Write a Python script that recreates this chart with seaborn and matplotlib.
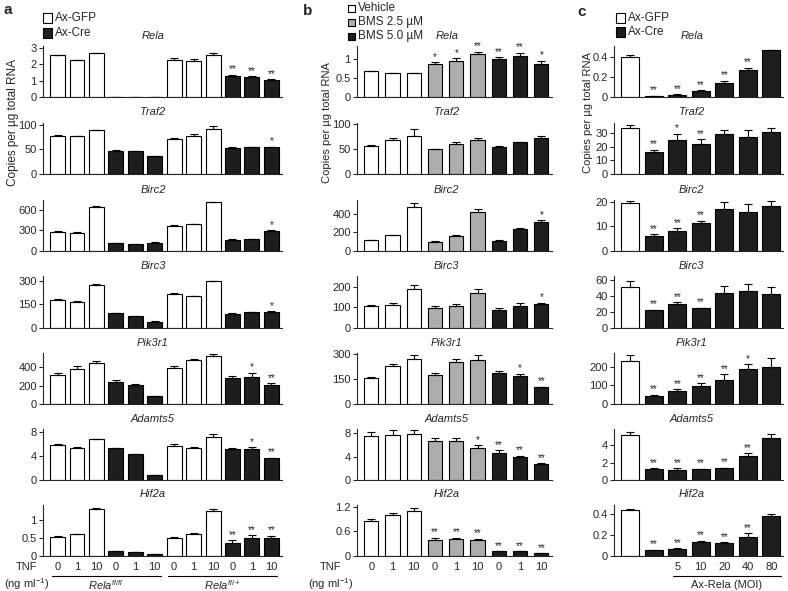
#Recreate the three-panel qPCR bar chart (a, b, c).

import numpy as np
import pandas as pd
import seaborn as sns
from matplotlib import pyplot as plt
from matplotlib.patches import Rectangle
from matplotlib.lines import Line2D
from matplotlib.transforms import blended_transform_factory

genes = ["Rela", "Traf2", "Birc2", "Birc3", "Pik3r1", "Adamts5", "Hif2a"]

# ---- panel a : Ax-GFP / Ax-Cre on Rela fl/fl and fl/+ chondrocytes
a_tnf = ["0", "1", "10"] * 4
a_colors = ["white"] * 3 + ["#1e1e1e"] * 3 + ["white"] * 3 + ["#1e1e1e"] * 3
a_mean = {
    "Rela": [2.55, 2.27, 2.68, 0.02, 0.02, 0.02, 2.28, 2.22, 2.55, 1.30, 1.22, 1.05],
    "Traf2": [77, 77, 90, 47, 46, 36, 72, 78, 93, 53, 55, 55],
    "Birc2": [280, 270, 650, 110, 105, 115, 360, 390, 710, 165, 175, 290],
    "Birc3": [180, 168, 278, 95, 75, 38, 220, 203, 300, 90, 98, 103],
    "Pik3r1": [315, 385, 450, 245, 205, 85, 395, 480, 520, 280, 300, 205],
    "Adamts5": [5.8, 5.4, 6.8, 5.3, 4.3, 0.8, 5.7, 5.4, 7.2, 5.1, 5.2, 3.6],
    "Hif2a": [0.53, 0.59, 1.30, 0.12, 0.10, 0.03, 0.48, 0.59, 1.25, 0.36, 0.50, 0.50],
}
a_err = {
    "Rela": [0.05, 0.02, 0.03, 0, 0, 0, 0.08, 0.08, 0.12, 0.06, 0.05, 0.05],
    "Traf2": [3, 1, 1, 1, 1, 1, 1, 5, 5, 2, 1, 1],
    "Birc2": [15, 5, 3, 3, 3, 10, 15, 10, 5, 5, 3, 10],
    "Birc3": [3, 3, 2, 2, 1, 2, 3, 3, 5, 3, 3, 3],
    "Pik3r1": [20, 30, 25, 15, 15, 3, 20, 15, 25, 30, 40, 20],
    "Adamts5": [0.15, 0.1, 0.1, 0.1, 0.1, 0.05, 0.3, 0.1, 0.4, 0.2, 0.3, 0.1],
    "Hif2a": [0.01, 0.02, 0.02, 0, 0, 0, 0.05, 0.04, 0.06, 0.07, 0.07, 0.05],
}
a_star = {
    "Rela": [""] * 9 + ["**", "**", "**"],
    "Traf2": [""] * 11 + ["*"],
    "Birc2": [""] * 11 + ["*"],
    "Birc3": [""] * 11 + ["*"],
    "Pik3r1": [""] * 10 + ["*", "**"],
    "Adamts5": [""] * 10 + ["*", "**"],
    "Hif2a": [""] * 9 + ["**", "**", "**"],
}
a_ylim = [3.12, 106, 746, 331, 557, 8.5, 1.43]
a_ticks = [[0, 1, 2, 3], [0, 50, 100], [0, 300, 600], [0, 150, 300],
           [0, 200, 400], [0, 4, 8], [0, 0.5, 1]]

# ---- panel b : vehicle / BMS
b_tnf = ["0", "1", "10"] * 3
b_colors = ["white"] * 3 + ["#adadad"] * 3 + ["#1e1e1e"] * 3
b_mean = {
    "Rela": [0.67, 0.62, 0.62, 0.85, 0.95, 1.12, 0.99, 1.08, 0.85],
    "Traf2": [56, 69, 76, 49, 59, 68, 53, 63, 72],
    "Birc2": [115, 170, 480, 100, 165, 420, 110, 240, 315],
    "Birc3": [105, 110, 190, 95, 108, 170, 88, 105, 118],
    "Pik3r1": [158, 228, 272, 172, 250, 262, 185, 170, 100],
    "Adamts5": [7.5, 7.6, 7.9, 6.7, 6.6, 5.4, 4.6, 3.9, 2.7],
    "Hif2a": [0.84, 1.0, 1.1, 0.37, 0.40, 0.39, 0.10, 0.10, 0.05],
}
b_err = {
    "Rela": [0.02, 0.01, 0.01, 0.05, 0.06, 0.06, 0.05, 0.07, 0.1],
    "Traf2": [2, 4, 15, 1, 5, 5, 2, 1, 4],
    "Birc2": [5, 8, 35, 8, 8, 35, 5, 8, 15],
    "Birc3": [8, 10, 20, 12, 10, 22, 10, 15, 5],
    "Pik3r1": [5, 10, 25, 12, 20, 30, 15, 12, 5],
    "Adamts5": [0.7, 1.0, 0.7, 0.4, 0.6, 0.5, 0.5, 0.25, 0.2],
    "Hif2a": [0.05, 0.04, 0.07, 0.07, 0.04, 0.02, 0.01, 0.01, 0.01],
}
b_star = {
    "Rela": ["", "", "", "*", "*", "**", "**", "**", "*"],
    "Traf2": [""] * 9,
    "Birc2": [""] * 8 + ["*"],
    "Birc3": [""] * 8 + ["*"],
    "Pik3r1": [""] * 7 + ["*", "**"],
    "Adamts5": [""] * 5 + ["*", "**", "**", "**"],
    "Hif2a": [""] * 3 + ["**"] * 6,
}
b_ylim = [1.33, 103.5, 551, 252, 306, 8.7, 1.25]
b_ticks = [[0, 0.5, 1], [0, 50, 100], [0, 200, 400], [0, 100, 200],
           [0, 150, 300], [0, 4, 8], [0, 0.6, 1.2]]

# ---- panel c : Ax-Rela rescue
c_moi = ["", "", "5", "10", "20", "40", "80"]
c_colors = ["white"] + ["#1e1e1e"] * 6
c_mean = {
    "Rela": [0.40, 0.01, 0.02, 0.065, 0.145, 0.275, 0.47],
    "Traf2": [34, 16, 25, 22, 29.5, 27, 30.5],
    "Birc2": [19.5, 6, 8, 11.5, 17, 16, 18.5],
    "Birc3": [51, 22, 30.5, 24.5, 44, 46, 43],
    "Pik3r1": [230, 45, 72, 95, 130, 188, 200],
    "Adamts5": [5.2, 1.3, 1.2, 1.25, 1.35, 2.75, 4.9],
    "Hif2a": [0.43, 0.05, 0.065, 0.125, 0.12, 0.18, 0.38],
}
c_err = {
    "Rela": [0.02, 0.003, 0.008, 0.005, 0.02, 0.02, 0.005],
    "Traf2": [2, 1.5, 4.5, 3.5, 2.5, 5, 3],
    "Birc2": [0.8, 0.8, 1.2, 0.8, 3, 3, 2],
    "Birc3": [8, 0.5, 2, 0.5, 9, 9, 9],
    "Pik3r1": [30, 5, 6, 15, 30, 25, 45],
    "Adamts5": [0.3, 0.05, 0.15, 0.05, 0.05, 0.35, 0.45],
    "Hif2a": [0.01, 0.005, 0.005, 0.015, 0.005, 0.03, 0.02],
}
c_star = {
    "Rela": ["", "**", "**", "**", "**", "**", ""],
    "Traf2": ["", "**", "*", "**", "", "", ""],
    "Birc2": ["", "**", "**", "**", "", "", ""],
    "Birc3": ["", "**", "**", "**", "", "", ""],
    "Pik3r1": ["", "**", "**", "**", "**", "*", ""],
    "Adamts5": ["", "**", "**", "**", "**", "**", ""],
    "Hif2a": ["", "**", "**", "**", "**", "**", ""],
}
c_ylim = [0.51, 37.8, 20.8, 65, 273, 5.9, 0.486]
c_ticks = [[0, 0.2, 0.4], [0, 10, 20, 30], [0, 10, 20], [0, 20, 40, 60],
           [0, 100, 200], [0, 2, 4], [0, 0.2, 0.4]]

ylabel = "Copies per \u00b5g total RNA"

sns.set_style("ticks")
plt.rcParams['font.family'] = ['Liberation Sans', 'DejaVu Sans']
plt.rcParams['mathtext.fontset'] = 'custom'
plt.rcParams['mathtext.rm'] = 'Liberation Sans'
plt.rcParams['mathtext.it'] = 'Liberation Sans:italic'

W, H = 788, 591
fig = plt.figure(figsize=(W / 100, H / 100), dpi=100)

row_bottoms = [97, 173.5, 251, 327.5, 404, 480, 555.5]
row_h = 51


def fy(y):
    return 1 - y / H


def draw_bars(ax, vals, errs, stars, colors, width):
    df = pd.DataFrame({"pos": [str(i) for i in range(len(vals))], "val": vals})
    pal = dict(zip(df["pos"], colors))
    sns.barplot(data=df, x="pos", y="val", hue="pos", palette=pal, width=width,
                edgecolor="black", linewidth=0.8, legend=False, ax=ax)
    x = np.arange(len(vals))
    ax.errorbar(x, vals, yerr=[np.zeros(len(vals)), errs], fmt="none",
                ecolor="black", elinewidth=0.8, capsize=3, capthick=0.8)
    for xi, v, e, s in zip(x, vals, errs, stars):
        if s:
            ax.annotate(s, (xi, v + e), xytext=(0, 0.3), textcoords="offset points",
                        ha="center", va="bottom", fontsize=7)


panels = [
    dict(L=43, R=282, xlim=(-0.75, 11.55), width=0.77, colors=a_colors,
         mean=a_mean, err=a_err, star=a_star, ylim=a_ylim, ticks=a_ticks),
    dict(L=357, R=552, xlim=(-0.67, 8.5), width=0.67, colors=b_colors,
         mean=b_mean, err=b_err, star=b_star, ylim=b_ylim, ticks=b_ticks),
    dict(L=614, R=783, xlim=(-0.69, 6.5), width=0.75, colors=c_colors,
         mean=c_mean, err=c_err, star=c_star, ylim=c_ylim, ticks=c_ticks),
]

bottom_axes = []
for p in panels:
    for r, g in enumerate(genes):
        ax = fig.add_axes([p["L"] / W, fy(row_bottoms[r]), (p["R"] - p["L"]) / W, row_h / H])
        draw_bars(ax, p["mean"][g], p["err"][g], p["star"][g], p["colors"], p["width"])
        ax.set_xlim(*p["xlim"])
        ax.set_ylim(0, p["ylim"][r])
        ax.set_yticks(p["ticks"][r])
        ax.set_yticklabels([f"{t:g}" for t in p["ticks"][r]])
        ax.set_xticks([])
        ax.set_xlabel("")
        ax.set_ylabel("")
        sns.despine(ax=ax)
        for sp in ["left", "bottom"]:
            ax.spines[sp].set_linewidth(0.8)
        ax.tick_params(axis="y", length=3, width=0.8, labelsize=8, pad=1.5)
        ax.annotate(g, xy=(0.46, 1), xycoords="axes fraction", xytext=(0, 7.5),
                    textcoords="offset points", ha="center", va="center",
                    style="italic", fontsize=8)
    bottom_axes.append(ax)

# x labels under the bottom row
num_y = fy(567)
for ax, labels in zip(bottom_axes, [a_tnf, b_tnf, c_moi]):
    tr = blended_transform_factory(ax.transData, fig.transFigure)
    for i, lab in enumerate(labels):
        ax.text(i, num_y, lab, transform=tr, ha="center", va="center",
                fontsize=8, clip_on=False)

ax_a, ax_b, ax_c = bottom_axes
tr_a = blended_transform_factory(ax_a.transData, fig.transFigure)
for x0, x1, lab, xc in [(-0.3, 5.3, r"$\mathit{Rela}^{\mathit{fl/fl}}$", 2.5),
                        (5.7, 11.3, r"$\mathit{Rela}^{\mathit{fl/+}}$", 8.5)]:
    fig.add_artist(Line2D([x0, x1], [fy(576), fy(576)], transform=tr_a,
                          color="black", lw=0.8))
    ax_a.text(xc, fy(585), lab, transform=tr_a, ha="center", va="center", fontsize=8)

tr_c = blended_transform_factory(ax_c.transData, fig.transFigure)
fig.add_artist(Line2D([1.8, 6.4], [fy(576), fy(576)], transform=tr_c,
                      color="black", lw=0.8))
ax_c.text(4.1, fy(585), "Ax-Rela (MOI)", transform=tr_c, ha="center",
          va="center", fontsize=8)

for xc in [27, 331]:
    fig.text(xc / W, fy(567), "TNF", ha="center", va="center", fontsize=8)
    fig.text(xc / W, fy(584), r"(ng ml$^{-1}$)", ha="center", va="center", fontsize=8)

# y labels and panel letters
for xc, yc, fs in [(13, 122, 8.5), (327, 123, 8), (588, 113, 8)]:
    fig.text(xc / W, fy(yc), ylabel, rotation=90, ha="center", va="center", fontsize=fs)
for xc, yc, lab in [(4, 10, "a"), (303, 11, "b"), (577, 12, "c")]:
    fig.text(xc / W, fy(yc), lab, ha="left", va="center", fontsize=11, fontweight="bold")

# legends drawn as small squares + text
legend_items = [
    (43, 9, [(18, "white", "Ax-GFP"), (33, "#1e1e1e", "Ax-Cre")]),
    (348, 7, [(8, "white", "Vehicle"), (22, "#adadad", "BMS 2.5 \u00b5M"),
              (36, "#1e1e1e", "BMS 5.0 \u00b5M")]),
    (616, 9, [(18, "white", "Ax-GFP"), (32, "#1e1e1e", "Ax-Cre")]),
]
for x0, s, rows in legend_items:
    for yc, col, lab in rows:
        fig.add_artist(Rectangle((x0 / W, fy(yc + s / 2)), s / W, s / H,
                                 transform=fig.transFigure, facecolor=col,
                                 edgecolor="black", lw=0.8))
        fig.text((x0 + s + 3) / W, fy(yc), lab, ha="left", va="center", fontsize=8.5)

fig.savefig("out.png", dpi=100)
